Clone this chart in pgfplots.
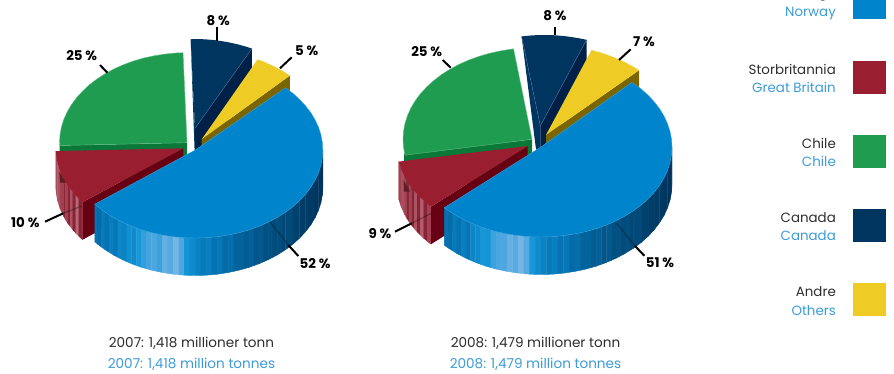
\documentclass[border=0pt]{standalone}
\usepackage{pgfplots}
\pgfplotsset{compat=1.18}
\usepackage{fontspec}
\setmainfont{Poppins}
\definecolor{nblue}{RGB}{0,133,204}
\definecolor{nblueedge}{RGB}{60,160,220}
\definecolor{nred}{RGB}{152,30,48}
\definecolor{nredface}{RGB}{104,0,20}
\definecolor{nredshade}{RGB}{92,30,36}
\definecolor{ngreen}{RGB}{31,156,80}
\definecolor{ngreenface}{RGB}{10,120,56}
\definecolor{nnavy}{RGB}{0,53,95}
\definecolor{nnavyface}{RGB}{0,32,72}
\definecolor{nnavyline}{RGB}{70,110,150}
\definecolor{nyellow}{RGB}{239,203,37}
\definecolor{nolive}{RGB}{122,101,0}
\definecolor{ntext}{RGB}{45,45,45}
\definecolor{nen}{RGB}{60,155,215}
\pgfplotsset{
  colormap={bluewall}{rgb255(0cm)=(0,50,92) rgb255(2cm)=(0,62,105) rgb255(4cm)=(2,82,132) rgb255(6cm)=(5,118,182) rgb255(7.5cm)=(20,150,215) rgb255(9cm)=(85,170,225) rgb255(10cm)=(125,182,228)},
  colormap={redwall}{rgb255(0cm)=(120,20,38) rgb255(5cm)=(150,45,62) rgb255(10cm)=(205,140,150)},
}
\tikzset{
  share/.style={font=\fontsize{13.4}{13}\selectfont\bfseries,text=black,inner sep=0pt},
  nolabel/.style={font=\fontsize{13.4}{13}\selectfont,text=ntext,inner sep=0pt},
  enlabel/.style={font=\fontsize{13.4}{13}\selectfont,text=nen,inner sep=0pt},
  nototal/.style={font=\fontsize{13.6}{13}\selectfont,text=ntext,inner sep=0pt},
  entotal/.style={font=\fontsize{13.6}{13}\selectfont,text=nen,inner sep=0pt},
}
\pgfplotsset{
  wall/.style={surf,shader=flat corner,mesh/cols=2,point meta=explicit,point meta min=0,point meta max=1,forget plot},
  leader/.style={black,line width=2pt,forget plot},
  leaderfaint/.style={black,line width=1.2pt,opacity=.3,forget plot},
}
\begin{document}
\begin{tikzpicture}
\path[use as bounding box,clip] (0,0) rectangle (894pt,373pt);
\begin{axis}[
  at={(0,0)},anchor=south west,scale only axis,width=894pt,height=373pt,
  xmin=0,xmax=894,ymin=0,ymax=373,y dir=reverse,hide axis,clip=false]

%% ---------- 2007 ----------
% Chile 25
\addplot[fill=ngreenface,draw=none,forget plot] coordinates {(59.6,145.5)(187,142.7)(187,180.2)(59.6,183)};
\addplot[fill=ngreen,draw=ngreen!70!white,line width=.4pt,forget plot] coordinates {(187,142.7)(183,52.7)(175.9,53)(164.9,54.1)(154,55.8)(143.4,58.1)(133.1,61.1)(123.2,64.8)(113.9,69)(105,73.8)(96.8,79.1)(89.3,84.8)(82.6,91.1)(76.6,97.7)(71.4,104.7)(67.2,111.9)(63.8,119.4)(61.4,127.1)(60,134.9)(59.5,142.7)(59.6,145.5)(187,142.7)};
% Storbritannia 10
\addplot[wall,colormap name=redwall] coordinates {
(55.9,151.1)[.6](55.9,188.6)[.6]
(56.3,156)[.65](56.3,193.5)[.65]
(57.7,163.6)[.7](57.7,201.1)[.7]
(60.1,171.1)[.6](60.1,208.6)[.6]
(63.5,178.4)[.3](63.5,215.9)[.3]
(65.5,182)[.6](65.5,219.5)[.6]
(67.7,185.5)[.3](67.7,223)[.3]
(70.2,188.9)[.7](70.2,226.4)[.7]
(72.9,192.3)[.3](72.9,229.8)[.3]
(75.8,195.6)[.8](75.8,233.1)[.8]
(78.9,198.8)[.3](78.9,236.3)[.3]
(82.5,202.2)[.2](82.5,239.7)[.2]};
\addplot[fill=nredshade,draw=none,forget plot] coordinates {(59.3,171.7)(66,182.7)(60,182.7)};
\addplot[fill=nredface,draw=none,forget plot] coordinates {(82.5,202.2)(183.3,148.3)(183.3,185.8)(82.5,239.7)};
\addplot[fill=nred,draw=none,forget plot] coordinates {(183.3,148.3)(55.9,151.1)(56.3,156)(57.7,163.6)(60.1,171.1)(63.5,178.4)(67.7,185.5)(72.9,192.3)(78.9,198.8)(82.5,202.2)};
% Canada 8
\addplot[fill=nnavy,draw=none,forget plot] coordinates {(190.7,39.3)(195,128.3)(195,165.8)(194.5,148)};
\addplot[fill=nnavyface,draw=none,forget plot] coordinates {(251.9,48.6)(195,128.3)(195,165.8)(251.9,86.1)};
\addplot[fill=nnavy,draw=none,forget plot] coordinates {(195,128.3)(251.9,48.6)(247.9,47.2)(237.6,44.3)(227,42)(216.1,40.3)(205.1,39.3)(194,39)(190.7,39.3)};
\addplot[nnavyline,line width=.4pt,forget plot] coordinates {(251.9,48.6)(195,128.3)};
% Andre 5
\addplot[fill=nolive,draw=none,forget plot] coordinates {(289.9,75.6)(201.7,139.3)(201.7,176.8)(289.9,113.1)};
\addplot[fill=nyellow,draw=none,forget plot] coordinates {(201.7,139.3)(289.9,75.6)(281.7,70.4)(272.8,65.7)(263.5,61.6)(257.6,59.4)};
% Norge 52
\addplot[wall,colormap name=bluewall] coordinates {
(94.8,204.2)[.58](94.8,241.7)[.58]
(97.6,206.6)[.55](97.6,244.1)[.55]
(101.35,209.4)[.62](101.35,246.9)[.62]
(105.1,212.2)[.58](105.1,249.7)[.58]
(109.2,214.8)[.64](109.2,252.3)[.64]
(113.3,217.4)[.6](113.3,254.9)[.6]
(117.75,219.75)[.68](117.75,257.25)[.68]
(122.2,222.1)[.66](122.2,259.6)[.66]
(126.85,224.15)[.72](126.85,261.65)[.72]
(131.5,226.2)[.7](131.5,263.7)[.7]
(136.45,228)[.76](136.45,265.5)[.76]
(141.4,229.8)[.82](141.4,267.3)[.82]
(146.55,231.25)[.86](146.55,268.75)[.86]
(151.7,232.7)[.88](151.7,270.2)[.88]
(157,233.85)[.84](157,271.35)[.84]
(162.3,235)[.94](162.3,272.5)[.94]
(167.75,235.85)[.9](167.75,273.35)[.9]
(173.2,236.7)[.98](173.2,274.2)[.98]
(178.7,237.2)[.88](178.7,274.7)[.88]
(184.2,237.7)[.74](184.2,275.2)[.74]
(189.75,237.85)[.7](189.75,275.35)[.7]
(195.3,238)[.66](195.3,275.5)[.66]
(200.85,237.85)[.62](200.85,275.35)[.62]
(206.4,237.7)[.64](206.4,275.2)[.64]
(211.9,237.2)[.58](211.9,274.7)[.58]
(217.4,236.7)[.6](217.4,274.2)[.6]
(222.85,235.85)[.54](222.85,273.35)[.54]
(228.3,235)[.56](228.3,272.5)[.56]
(233.6,233.85)[.5](233.6,271.35)[.5]
(238.9,232.7)[.5](238.9,270.2)[.5]
(244.05,231.25)[.46](244.05,268.75)[.46]
(249.2,229.8)[.48](249.2,267.3)[.48]
(254.15,228)[.42](254.15,265.5)[.42]
(259.1,226.2)[.44](259.1,263.7)[.44]
(263.75,224.15)[.38](263.75,261.65)[.38]
(268.4,222.1)[.4](268.4,259.6)[.4]
(272.85,219.75)[.34](272.85,257.25)[.34]
(277.3,217.4)[.36](277.3,254.9)[.36]
(281.4,214.8)[.3](281.4,252.3)[.3]
(285.5,212.2)[.32](285.5,249.7)[.32]
(293,206.6)[.24](293,244.1)[.24]
(299.7,200.5)[.2](299.7,238)[.2]
(305.7,194)[.16](305.7,231.5)[.16]
(310.9,187.2)[.12](310.9,224.7)[.12]
(315.1,180.1)[.08](315.1,217.6)[.08]
(318.5,172.8)[.04](318.5,210.3)[.04]
(320.9,165.3)[.02](320.9,202.8)[.02]
(322.3,157.7)[0](322.3,195.2)[0]
(322.8,150)[0](322.8,187.5)[0]};
\addplot[fill=nblue,draw=nblueedge,line width=.4pt,forget plot] coordinates {(195.3,150)(285.5,87.8)(293,93.4)(299.7,99.5)(305.7,106)(310.9,112.8)(315.1,119.9)(318.5,127.2)(320.9,134.7)(322.3,142.3)(322.8,150)(322.3,157.7)(320.9,165.3)(318.5,172.8)(315.1,180.1)(310.9,187.2)(305.7,194)(299.7,200.5)(293,206.6)(285.5,212.2)(277.3,217.4)(268.4,222.1)(259.1,226.2)(249.2,229.8)(238.9,232.7)(228.3,235)(217.4,236.7)(206.4,237.7)(195.3,238)(184.2,237.7)(173.2,236.7)(162.3,235)(151.7,232.7)(141.4,229.8)(131.5,226.2)(122.2,222.1)(113.3,217.4)(105.1,212.2)(97.6,206.6)(94.8,204.2)(195.3,150)};
% Leaders
\addplot[leader] coordinates {(217,27.3)(217,40.7)};
\addplot[leader] coordinates {(291.7,57.3)(280,68.3)};
\addplot[leader] coordinates {(100,65)(107.3,72.7)};
\addplot[leader] coordinates {(45,221.7)(63.3,213.3)};
\addplot[leaderfaint] coordinates {(63.3,213.3)(81.7,206)};
\addplot[leader] coordinates {(298.3,256)(288.3,245)};
\addplot[leaderfaint] coordinates {(288.3,245)(270,221.7)};

%% ---------- 2008 ----------
% Chile 25
\addplot[fill=ngreenface,draw=none,forget plot] coordinates {(404,154)(532,139.3)(532,176.8)(404,191.5)};
\addplot[fill=ngreen,draw=ngreen!70!white,line width=.4pt,forget plot] coordinates {(532,139.3)(513.5,48.8)(500.5,50.9)(489.5,53.3)(478.9,56.4)(468.7,60.1)(459.1,64.3)(450,69.2)(441.5,74.6)(433.8,80.5)(426.8,86.8)(420.6,93.5)(415.3,100.6)(410.9,108)(407.5,115.6)(405,123.4)(403.5,131.3)(403,139.3)(403.5,147.3)(405,155.2)(532,139.3)};
% Storbritannia 9
\addplot[wall,colormap name=redwall] coordinates {
(398.7,161.6)[.6](398.7,199.1)[.6]
(401.2,169.3)[.68](401.2,206.8)[.68]
(404.6,176.8)[.6](404.6,214.3)[.6]
(406.7,180.4)[.3](406.7,217.9)[.3]
(409,184)[.62](409,221.5)[.62]
(411.5,187.6)[.3](411.5,225.1)[.3]
(414.3,191)[.7](414.3,228.5)[.7]
(417.2,194.4)[.3](417.2,231.9)[.3]
(420.4,197.6)[.75](420.4,235.1)[.75]
(423.8,200.8)[.3](423.8,238.3)[.3]
(427.4,203.9)[.6](427.4,241.4)[.6]
(431,206.7)[.2](431,244.2)[.2]};
\addplot[fill=nredshade,draw=none,forget plot] coordinates {(403.5,180)(410,191.7)(404,191.7)};
\addplot[fill=nredface,draw=none,forget plot] coordinates {(431,206.7)(527.7,146)(527.7,183.5)(431,244.2)};
\addplot[fill=nred,draw=none,forget plot] coordinates {(527.7,146)(398.7,161.6)(401.2,169.3)(404.6,176.8)(409,184)(414.3,191)(420.4,197.6)(427.4,203.9)(431,206.7)};
% Canada 8
\addplot[fill=nnavy,draw=none,forget plot] coordinates {(521.6,36.4)(540.3,126)(540.3,163.5)(535.7,147)};
\addplot[fill=nnavyface,draw=none,forget plot] coordinates {(586.5,39.8)(540.3,126)(540.3,163.5)(586.5,77.3)};
\addplot[fill=nnavy,draw=none,forget plot] coordinates {(540.3,126)(586.5,39.8)(578.2,38.1)(567,36.4)(555.7,35.3)(544.3,35)(532.9,35.3)(521.6,36.4)};
\addplot[nnavyline,line width=.4pt,forget plot] coordinates {(586.5,39.8)(540.3,126)(521.6,36.4)};
% Andre 7
\addplot[fill=nolive,draw=none,forget plot] coordinates {(639,70.3)(546,135)(546,172.5)(639,107.8)};
\addplot[fill=nyellow,draw=none,forget plot] coordinates {(546,135)(639,70.3)(632.2,66.1)(623.1,61.3)(613.5,57.1)(603.4,53.4)(591.5,50)};
% Norge 51
\addplot[wall,colormap name=bluewall] coordinates {
(444.3,207.7)[.58](444.3,245.2)[.58]
(448.4,210.6)[.55](448.4,248.1)[.55]
(452.6,213.25)[.62](452.6,250.75)[.62]
(456.8,215.9)[.58](456.8,253.4)[.58]
(461.35,218.3)[.64](461.35,255.8)[.64]
(465.9,220.7)[.6](465.9,258.2)[.6]
(470.7,222.8)[.68](470.7,260.3)[.68]
(475.5,224.9)[.7](475.5,262.4)[.7]
(480.55,226.75)[.76](480.55,264.25)[.76]
(485.6,228.6)[.74](485.6,266.1)[.74]
(490.9,230.1)[.84](490.9,267.6)[.84]
(496.2,231.6)[.88](496.2,269.1)[.88]
(501.65,232.75)[.88](501.65,270.25)[.88]
(507.1,233.9)[.94](507.1,271.4)[.94]
(512.7,234.75)[.9](512.7,272.25)[.9]
(518.3,235.6)[.98](518.3,273.1)[.98]
(523.95,236.15)[.9](523.95,273.65)[.9]
(529.6,236.7)[.76](529.6,274.2)[.76]
(535.3,236.85)[.7](535.3,274.35)[.7]
(541,237)[.66](541,274.5)[.66]
(546.7,236.85)[.62](546.7,274.35)[.62]
(552.4,236.7)[.64](552.4,274.2)[.64]
(558.05,236.15)[.58](558.05,273.65)[.58]
(563.7,235.6)[.6](563.7,273.1)[.6]
(569.3,234.75)[.54](569.3,272.25)[.54]
(574.9,233.9)[.56](574.9,271.4)[.56]
(580.35,232.75)[.5](580.35,270.25)[.5]
(585.8,231.6)[.5](585.8,269.1)[.5]
(591.1,230.1)[.46](591.1,267.6)[.46]
(596.4,228.6)[.48](596.4,266.1)[.48]
(601.45,226.75)[.42](601.45,264.25)[.42]
(606.5,224.9)[.44](606.5,262.4)[.44]
(611.3,222.8)[.38](611.3,260.3)[.38]
(616.1,220.7)[.4](616.1,258.2)[.4]
(620.65,218.3)[.34](620.65,255.8)[.34]
(625.2,215.9)[.36](625.2,253.4)[.36]
(629.4,213.25)[.3](629.4,250.75)[.3]
(633.6,210.6)[.32](633.6,248.1)[.32]
(641.3,204.9)[.24](641.3,242.4)[.24]
(648.3,198.6)[.2](648.3,236.1)[.2]
(654.4,192)[.16](654.4,229.5)[.16]
(659.7,185)[.12](659.7,222.5)[.12]
(664.1,177.8)[.08](664.1,215.3)[.08]
(667.5,170.3)[.04](667.5,207.8)[.04]
(670,162.6)[.02](670,200.1)[.02]
(671.5,154.8)[0](671.5,192.3)[0]
(672,147)[0](672,184.5)[0]};
\addplot[fill=nblue,draw=nblueedge,line width=.4pt,forget plot] coordinates {(541,147)(632,82.3)(641.3,89.1)(648.3,95.4)(654.4,102)(659.7,109)(664.1,116.2)(667.5,123.7)(670,131.4)(671.5,139.2)(672,147)(671.5,154.8)(670,162.6)(667.5,170.3)(664.1,177.8)(659.7,185)(654.4,192)(648.3,198.6)(641.3,204.9)(633.6,210.6)(625.2,215.9)(616.1,220.7)(606.5,224.9)(596.4,228.6)(585.8,231.6)(574.9,233.9)(563.7,235.6)(552.4,236.7)(541,237)(529.6,236.7)(518.3,235.6)(507.1,233.9)(496.2,231.6)(485.6,228.6)(475.5,224.9)(465.9,220.7)(456.8,215.9)(448.4,210.6)(444.3,207.7)(541,147)};
% Leaders
\addplot[leader] coordinates {(554.7,26.7)(554.7,35)};
\addplot[leader] coordinates {(630.7,49.3)(619,60)};
\addplot[leader] coordinates {(442.7,60)(450.7,67.7)};
\addplot[leader] coordinates {(395,231.7)(411.7,223.3)};
\addplot[leaderfaint] coordinates {(411.7,223.3)(431,213.3)};
\addplot[leader] coordinates {(644.3,255.7)(635,246)};
\addplot[leaderfaint] coordinates {(635,246)(616.7,223.3)};

%% ---------- Legend swatches ----------
\addplot[fill=nblue,draw=none,forget plot] coordinates {(853,-14)(886,-14)(886,19)(853,19)};
\addplot[fill=nred,draw=none,forget plot] coordinates {(853,61)(886,61)(886,94)(853,94)};
\addplot[fill=ngreen,draw=none,forget plot] coordinates {(853,135)(886,135)(886,168)(853,168)};
\addplot[fill=nnavy,draw=none,forget plot] coordinates {(853,209)(886,209)(886,242)(853,242)};
\addplot[fill=nyellow,draw=none,forget plot] coordinates {(853,283)(886,283)(886,316)(853,316)};

%% ---------- Share labels ----------
\node[share] at (axis cs:218.3,20.7) {8 \%};
\node[share] at (axis cs:306.7,50.7) {5 \%};
\node[share] at (axis cs:81.7,55.7) {25 \%};
\node[share] at (axis cs:25.3,222.3) {10 \%};
\node[share] at (axis cs:315,263.3) {52 \%};
\node[share] at (axis cs:555,15.7) {8 \%};
\node[share] at (axis cs:644,41.7) {7 \%};
\node[share] at (axis cs:426.7,51.7) {25 \%};
\node[share] at (axis cs:380,233.3) {9 \%};
\node[share] at (axis cs:660,262.3) {51 \%};

%% ---------- Legend text ----------
\node[nolabel,anchor=east] at (axis cs:836,-5) {Norge};
\node[enlabel,anchor=east] at (axis cs:836,13.3) {Norway};
\node[nolabel,anchor=east] at (axis cs:836,69.3) {Storbritannia};
\node[enlabel,anchor=east] at (axis cs:836,87.7) {Great Britain};
\node[nolabel,anchor=east] at (axis cs:836,143.3) {Chile};
\node[enlabel,anchor=east] at (axis cs:836,161.3) {Chile};
\node[nolabel,anchor=east] at (axis cs:836,217.3) {Canada};
\node[enlabel,anchor=east] at (axis cs:836,236) {Canada};
\node[nolabel,anchor=east] at (axis cs:836,291.7) {Andre};
\node[enlabel,anchor=east] at (axis cs:836,310.3) {Others};

%% ---------- Totals ----------
\node[nototal] at (axis cs:191.5,343.5) {2007: 1,418 millioner tonn};
\node[entotal] at (axis cs:191.5,364) {2007: 1,418 million tonnes};
\node[nototal] at (axis cs:535.5,343.5) {2008: 1,479 millioner tonn};
\node[entotal] at (axis cs:535.5,364) {2008: 1,479 million tonnes};
\end{axis}
\end{tikzpicture}
\end{document}
